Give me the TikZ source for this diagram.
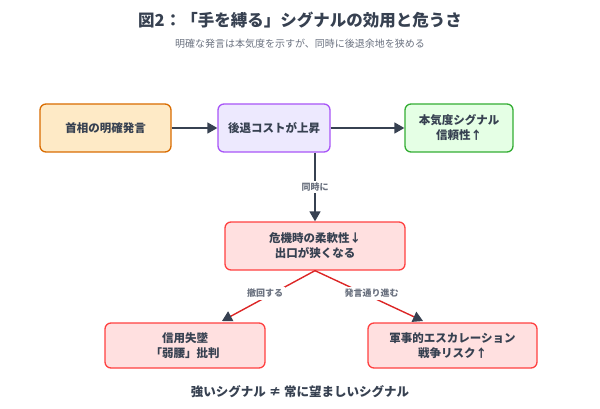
\documentclass[tikz,border=0pt]{standalone}
\usepackage{fontspec}
\setmainfont{Noto Sans CJK JP}
\usetikzlibrary{arrows.meta}
\definecolor{dk}{HTML}{374151}
\definecolor{gy}{HTML}{6B7280}
\definecolor{pb}{HTML}{A855F7}
\definecolor{pf}{HTML}{EDE9FE}
\definecolor{rl}{HTML}{DC2626}
\begin{document}
\begin{tikzpicture}[x=1pt,y=-1pt,
box/.style={draw,line width=1.3pt,rounded corners=6pt,align=center,font=\bfseries\fontsize{11.5}{15}\selectfont,text=dk,inner sep=0pt},
arr/.style={line width=1.6pt,draw=dk,-{Triangle[length=10pt,width=11pt,color=dk]}},
rarr/.style={line width=1.4pt,draw=rl,-{Triangle[length=10pt,width=11pt,color=dk]}},
lab/.style={fill=white,font=\bfseries\fontsize{9}{11}\selectfont,text=gy,inner sep=2pt}]
\useasboundingbox (0,0) rectangle (600,409);
\node[font=\bfseries\fontsize{16.5}{19}\selectfont,text=dk] (t) at (300,20) {図2：「手を縛る」シグナルの効用と危うさ};
\node[font=\fontsize{10}{12}\selectfont,text=gy] (s) at (300,44) {明確な発言は本気度を示すが、同時に後退余地を狭める};
\node[box,draw=orange!85!black,fill=yellow!25!orange!20,minimum width=131pt,minimum height=48pt] (a) at (105.5,128) {首相の明確発言};
\node[box,draw=pb,fill=pf,minimum width=112pt,minimum height=48pt] (b) at (274,128) {後退コストが上昇};
\node[box,draw=green!60!black!80,fill=green!10,minimum width=108pt,minimum height=48pt] (c) at (459,128) {本気度シグナル\\信頼性↑};
\node[box,draw=red!75,fill=red!12,minimum width=180pt,minimum height=48pt] (d) at (315,246) {危機時の柔軟性↓\\出口が狭くなる};
\node[box,draw=red!75,fill=red!12,minimum width=160pt,minimum height=45pt] (e) at (185,345.5) {信用失墜\\「弱腰」批判};
\node[box,draw=red!75,fill=red!12,minimum width=169pt,minimum height=45pt] (f) at (452.5,345.5) {軍事的エスカレーション\\戦争リスク↑};
\draw[arr] (a) -- (b);
\draw[arr] (b) -- (c);
\draw[arr] (b.south -| d.north) -- node[lab]{同時に} (d.north);
\coordinate (et) at (222,321);
\coordinate (ft) at (423,321);
\draw[rarr] (d.south) -- node[lab,pos=0.45,xshift=-8pt]{撤回する} (et);
\draw[rarr] (d.south) -- node[lab,pos=0.45,xshift=8pt]{発言通り進む} (ft);
\node[font=\bfseries\fontsize{12.5}{15}\selectfont,text=dk] (bt) at (300,392) {強いシグナル ≠ 常に望ましいシグナル};
\end{tikzpicture}
\end{document}
